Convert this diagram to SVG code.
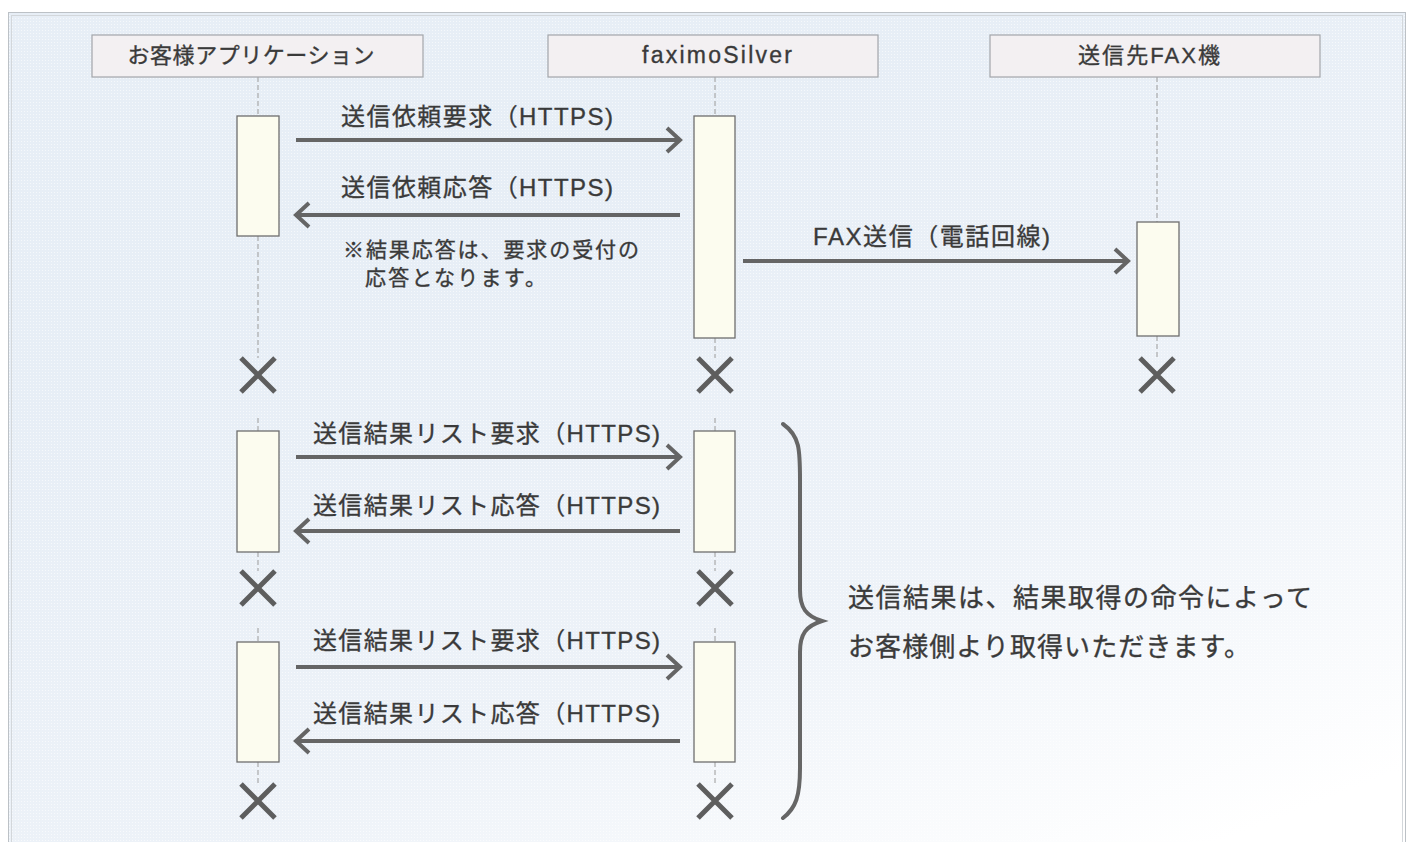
<svg xmlns="http://www.w3.org/2000/svg" width="1414" height="842" viewBox="0 0 1414 842">
<style>
text{font-family:"Liberation Sans","Noto Sans CJK JP",sans-serif;fill:#3a3a3a;stroke:#3a3a3a;stroke-width:0.35}
.hdr{fill:#f3f0f2;stroke:#a3a6aa;stroke-width:1.2}
.act{fill:#fcfcef;stroke:#6e6e6e;stroke-width:1.3}
.life{stroke:#9a9a9a;stroke-width:1;stroke-dasharray:5 3;fill:none}
.msg{stroke:#656565;stroke-width:4;fill:none}
.x{stroke:#5e5e5e;stroke-width:5;stroke-linecap:butt}
.h{font-size:22px}
.hl{font-size:23px}
.m{font-size:24px}
.n{font-size:21px}
.r{font-size:26px}
</style>
<defs>
<linearGradient id="bg" x1="0.35" y1="0.25" x2="0.85" y2="1">
<stop offset="0" stop-color="#e7eef6"/>
<stop offset="0.55" stop-color="#edf2f8"/>
<stop offset="1" stop-color="#ffffff"/>
</linearGradient>
<pattern id="dots" width="3" height="3" patternUnits="userSpaceOnUse">
<rect x="0" y="0" width="1" height="1" fill="#ffffff" opacity="0.6"/>
</pattern>
<marker id="ah" markerUnits="userSpaceOnUse" markerWidth="30" markerHeight="30" viewBox="-16 -15 20 30" refX="0" refY="0" orient="auto">
<path d="M-13,-12 L0,0 L-13,12" fill="none" stroke="#656565" stroke-width="4"/>
</marker>
</defs>
<rect x="0" y="0" width="1414" height="842" fill="#ffffff"/>
<rect x="8" y="12" width="1398" height="840" fill="url(#bg)"/>
<rect x="8" y="12" width="1398" height="840" fill="url(#dots)"/>
<rect x="8.5" y="12.5" width="1397" height="840" fill="none" stroke="#bcc1c6" stroke-width="1"/>
<rect x="11.5" y="15.5" width="1391" height="840" fill="none" stroke="#d3d7db" stroke-width="1"/>

<g id="lifelines">
<path class="life" d="M258,77 V116 M258,236 V358 M715,77 V116 M715,338 V358 M1157,77 V222 M1157,336 V358"/>
<path class="life" d="M258,418 V431 M258,552 V571 M715,418 V431 M715,552 V571"/>
<path class="life" d="M258,628 V642 M258,762 V784 M715,628 V642 M715,762 V784"/>
</g>

<g id="node-client">
<rect class="hdr" x="92" y="35" width="331" height="42"/>
<text class="h" x="251" y="63" text-anchor="middle" textLength="247" lengthAdjust="spacing">お客様アプリケーション</text>
</g>
<g id="node-faximo">
<rect class="hdr" x="548" y="35" width="330" height="42"/>
<text class="hl" x="717" y="63" text-anchor="middle" textLength="150" lengthAdjust="spacing">faximoSilver</text>
</g>
<g id="node-fax">
<rect class="hdr" x="990" y="35" width="330" height="42"/>
<text class="h" x="1149" y="63" text-anchor="middle" textLength="142" lengthAdjust="spacing">送信先FAX機</text>
</g>

<g id="activations">
<rect class="act" x="237" y="116" width="42" height="120"/>
<rect class="act" x="694" y="116" width="41" height="222"/>
<rect class="act" x="1137" y="222" width="42" height="114"/>
<rect class="act" x="237" y="431" width="42" height="121"/>
<rect class="act" x="694" y="431" width="41" height="121"/>
<rect class="act" x="237" y="642" width="42" height="120"/>
<rect class="act" x="694" y="642" width="41" height="120"/>
</g>

<g id="connectors">
<line class="msg" x1="296" y1="140" x2="680" y2="140" marker-end="url(#ah)"/>
<line class="msg" x1="680" y1="215" x2="296" y2="215" marker-end="url(#ah)"/>
<line class="msg" x1="743" y1="261" x2="1128" y2="261" marker-end="url(#ah)"/>
<line class="msg" x1="296" y1="457" x2="680" y2="457" marker-end="url(#ah)"/>
<line class="msg" x1="680" y1="531" x2="296" y2="531" marker-end="url(#ah)"/>
<line class="msg" x1="296" y1="667" x2="680" y2="667" marker-end="url(#ah)"/>
<line class="msg" x1="680" y1="741" x2="296" y2="741" marker-end="url(#ah)"/>
</g>

<g id="labels">
<text class="m" x="341" y="125" textLength="272" lengthAdjust="spacing">送信依頼要求（HTTPS)</text>
<text class="m" x="341" y="196" textLength="272" lengthAdjust="spacing">送信依頼応答（HTTPS)</text>
<text class="n" x="343" y="257" textLength="296" lengthAdjust="spacing">※結果応答は、要求の受付の</text>
<text class="n" x="365" y="285" textLength="181" lengthAdjust="spacing">応答となります。</text>
<text class="m" x="813" y="245" textLength="237" lengthAdjust="spacing">FAX送信（電話回線)</text>
<text class="m" x="313" y="442" textLength="347" lengthAdjust="spacing">送信結果リスト要求（HTTPS)</text>
<text class="m" x="313" y="514" textLength="347" lengthAdjust="spacing">送信結果リスト応答（HTTPS)</text>
<text class="m" x="313" y="649" textLength="347" lengthAdjust="spacing">送信結果リスト要求（HTTPS)</text>
<text class="m" x="313" y="722" textLength="347" lengthAdjust="spacing">送信結果リスト応答（HTTPS)</text>
</g>

<g id="terminations">
<path class="x" d="M241,358 L275,392 M275,358 L241,392"/>
<path class="x" d="M698,358 L732,392 M732,358 L698,392"/>
<path class="x" d="M1140,358 L1174,392 M1174,358 L1140,392"/>
<path class="x" d="M241,571 L275,605 M275,571 L241,605"/>
<path class="x" d="M698,571 L732,605 M732,571 L698,605"/>
<path class="x" d="M241,784 L275,818 M275,784 L241,818"/>
<path class="x" d="M698,784 L732,818 M732,784 L698,818"/>
</g>

<g id="note-brace">
<path d="M783,424 C800,436 800,450 800,480 L800,590 C800,608 806,616 822,621 C806,626 800,634 800,652 L800,768 C800,796 796,808 783,818" fill="none" stroke="#666666" stroke-width="4" stroke-linecap="round"/>
<text class="r" x="848" y="607" textLength="464" lengthAdjust="spacing">送信結果は、結果取得の命令によって</text>
<text class="r" x="848" y="656" textLength="402" lengthAdjust="spacing">お客様側より取得いただきます。</text>
</g>
</svg>
